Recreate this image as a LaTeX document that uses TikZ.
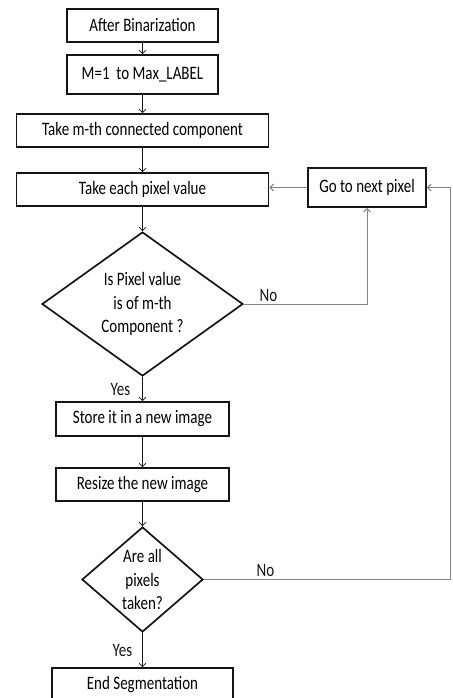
\documentclass[tikz,border=0pt]{standalone}
\usepackage{fontspec}
\setmainfont{Carlito}[FakeStretch=0.79]
\usepackage{tikz}
\usetikzlibrary{arrows.meta,calc,positioning,shapes.geometric}
\definecolor{ink}{HTML}{151515}
\definecolor{wire}{HTML}{858585}

\begin{document}
\begin{tikzpicture}[x=1pt,y=1pt,>={Straight Barb[length=3.5pt,width=7pt]},
    font=\fontsize{19}{23.5}\selectfont,
    stepbox/.style={draw=ink,line width=1.7pt,inner sep=0pt,minimum height=33pt},
    test/.style={diamond,draw=ink,line width=1.7pt,inner sep=0pt,align=center},
    flow/.style={->,ink,line width=0.7pt},
    back/.style={->,wire,line width=1pt},
    lbl/.style={inner sep=2pt,text=ink}]
  \useasboundingbox (0,0) rectangle (452,-698);
  % main column
  \node[stepbox,minimum width=151pt] (bin) at (142.5,-25.5) {After Binarization};
  \node[stepbox,minimum width=151pt,minimum height=39pt] (loop) at (142.5,-74.5) {M=1\ \ to Max\_LABEL};
  \node[stepbox,minimum width=252pt] (comp) at (142.5,-130.5) {Take m-th connected component};
  \node[stepbox,minimum width=252pt] (pix) at (142.5,-189.5) {Take each pixel value};
  \node[stepbox,minimum width=118pt,minimum height=39pt] (next) at (367,-187.5) {Go to next pixel};
  \node[test,aspect=1.4,minimum width=201pt,minimum height=144pt] (q1) at (142.5,-304) {Is Pixel value\\is of m-th\\Component ?};
  \node[stepbox,minimum width=173pt,minimum height=34pt] (store) at (142.5,-419) {Store it in a new image};
  \node[stepbox,minimum width=173pt] (resize) at (142.5,-484.5) {Resize the new image};
  \node[test,aspect=1.15,minimum width=121pt,minimum height=105pt] (q2) at (142.5,-579.5) {Are all\\pixels\\taken?};
  \node[stepbox,minimum width=181pt] (endseg) at (142.5,-684.5) {End Segmentation};
  \coordinate (turn) at (450,-579.5);

  \draw[flow] (bin) -- (loop);
  \draw[flow] (loop) -- (comp);
  \draw[flow] (comp) -- (pix);
  \draw[flow] (pix) -- (q1);
  \draw[flow] (q1) -- node[lbl,left=10pt] {Yes} (store);
  \draw[flow] (store) -- (resize);
  \draw[flow] (resize) -- (q2);
  \draw[flow] (q2) -- node[lbl,left=8pt] {Yes} (endseg);
  % loop back
  \draw[back] (next.west) -- (pix.east |- next.west);
  \draw[back] (q1.east) -- node[lbl,above,pos=0.2] {No} (q1.east -| next.south) -- (next.south);
  \draw[back] (q2.east) -- node[lbl,above,pos=0.25] {No} (turn) |- (next.east);
\end{tikzpicture}
\end{document}
